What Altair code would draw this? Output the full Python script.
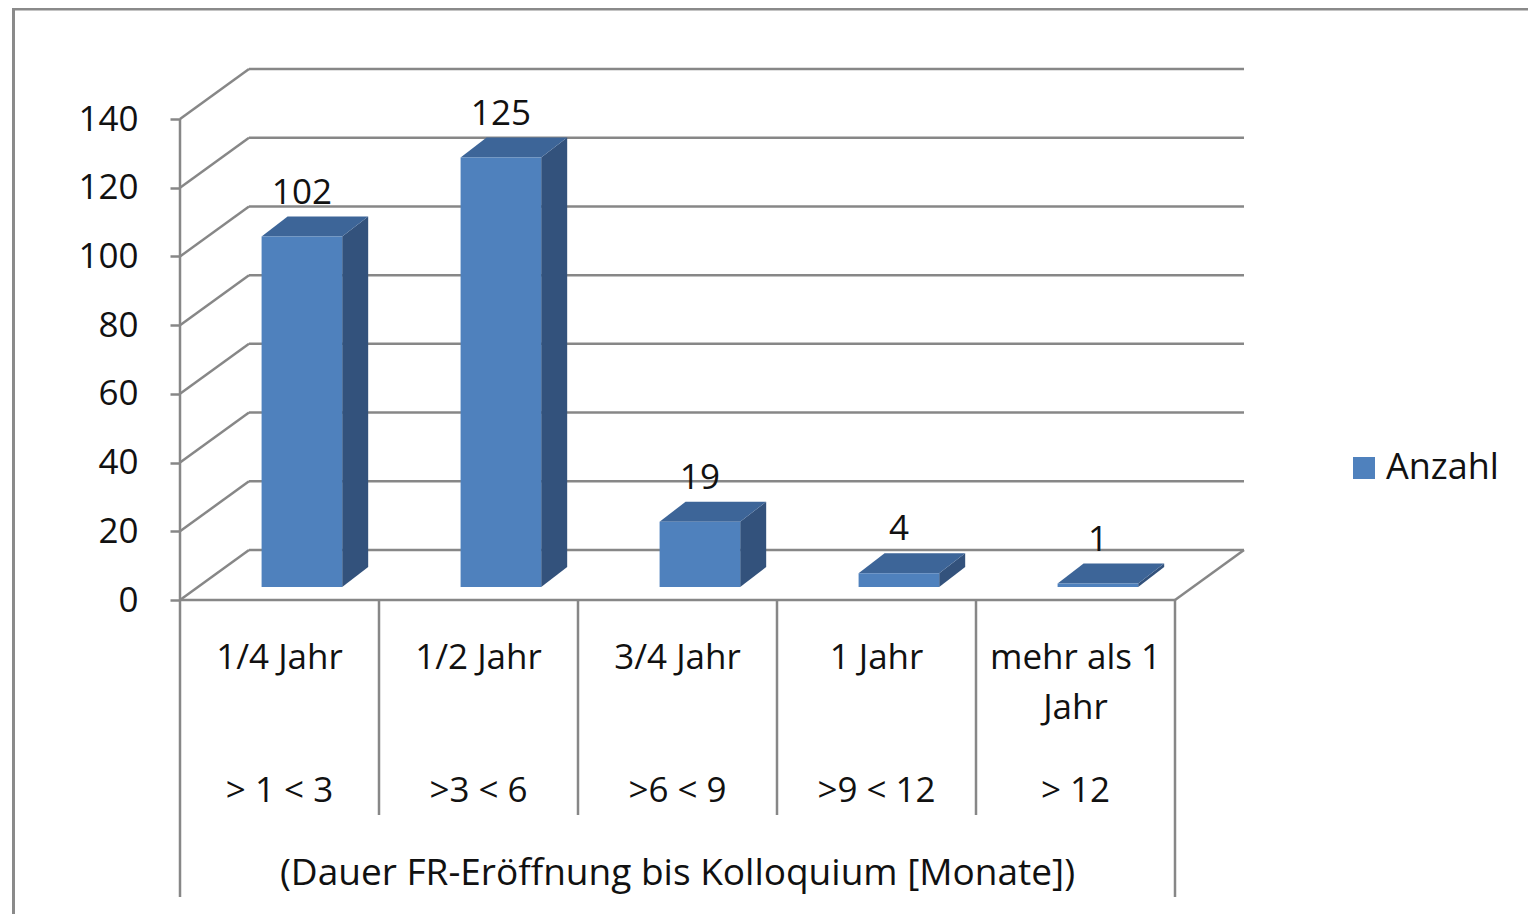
import altair as alt
import pandas as pd

# ---------------- data ----------------
categories = ["1/4 Jahr", "1/2 Jahr", "3/4 Jahr", "1 Jahr", "mehr als 1\nJahr"]
ranges = ["> 1 < 3", ">3 < 6", ">6 < 9", ">9 < 12", "> 12"]
values = [102, 125, 19, 4, 1]
series_name = "Anzahl"
y_ticks = [0, 20, 40, 60, 80, 100, 120, 140]
axis_title = "(Dauer FR-Eröffnung bis Kolloquium [Monate])"

# ---------------- geometry (pixels -> data units) ----------------
N = len(categories)
Y_MAX = 140
PX_X = 199.0            # px per category on the front plane
WALL_DX_PX, WALL_DY_PX = 69, 50
H = 531                 # plot height
W = int(N * PX_X + WALL_DX_PX)
PX_Y = (H - WALL_DY_PX) / Y_MAX
DX = WALL_DX_PX / PX_X
DY = WALL_DY_PX / PX_Y
FL, FW = 0.41, 0.405    # front face left offset / width within a category
YB = 13 / PX_Y          # bar front face sits 13 px behind the front edge
BDX, BDY = 26 / PX_X, 20 / PX_Y   # bar depth

BLUE = "#4F81BD"
SIDE = "#33527C"
TOP = "#3D6598"
GRID = "#878787"
TXT = "#111111"
FONT = "Open Sans"

# ---------------- tables ----------------
front = pd.DataFrame({
    "cat": categories,
    "series": series_name,
    "x1": [i + FL for i in range(N)],
    "x2": [i + FL + FW for i in range(N)],
    "y1": [YB] * N,
    "y2": [YB + v for v in values],
})

side_rows, top_rows = [], []
for i, v in enumerate(values):
    xl, xr = i + FL, i + FL + FW
    side_rows += [
        {"cat": i, "x": xr, "lo": YB, "hi": YB + v},
        {"cat": i, "x": xr + BDX, "lo": YB + BDY, "hi": YB + v + BDY},
    ]
    top_rows += [
        {"cat": i, "y": YB + v, "xa": xl, "xb": xr},
        {"cat": i, "y": YB + v + BDY, "xa": xl + BDX, "xb": xr + BDX},
    ]
side = pd.DataFrame(side_rows)
top = pd.DataFrame(top_rows)

labels = pd.DataFrame({
    "x": [i + FL + FW / 2 for i in range(N)],
    "y": [YB + v + BDY for v in values],
    "txt": [str(v) for v in values],
})

line_rows = []
for t in y_ticks:
    line_rows.append({"x": DX, "x2": N + DX, "y": t + DY, "y2": t + DY})
    line_rows.append({"x": 0, "x2": DX, "y": t, "y2": t + DY})
line_rows.append({"x": 0, "x2": 0, "y": 0, "y2": Y_MAX})
line_rows.append({"x": 0, "x2": N, "y": 0, "y2": 0})
line_rows.append({"x": N, "x2": N + DX, "y": 0, "y2": DY})
lines = pd.DataFrame(line_rows)

cat_tab = pd.DataFrame({
    "xc": [i + 0.5 for i in range(N)],
    "cat": categories,
    "rng": ranges,
})
inner_sep = pd.DataFrame({"x": list(range(1, N))})
outer_sep = pd.DataFrame({"x": [0, N]})
title_df = pd.DataFrame({"x": [N / 2], "t": [axis_title]})
frame_df = pd.DataFrame({"a": [0]})

xs = alt.Scale(domain=[0, N + DX], nice=False, zero=False)
ys = alt.Scale(domain=[0, Y_MAX + DY], nice=False, zero=False)
yaxis = alt.Axis(
    values=y_ticks, domain=False, grid=False, ticks=True, tickSize=10,
    tickColor=GRID, tickWidth=2.5, labelFont=FONT, labelFontSize=35,
    labelColor=TXT, labelPadding=32, title=None)

# ---------------- layers ----------------
grid = alt.Chart(lines).mark_rule(color=GRID, strokeWidth=2.5).encode(
    x=alt.X("x:Q", scale=xs, axis=None),
    x2="x2:Q",
    y=alt.Y("y:Q", scale=ys, axis=yaxis),
    y2="y2:Q",
)

side_l = alt.Chart(side).mark_area(orient="vertical", color=SIDE, opacity=1).encode(
    x=alt.X("x:Q", scale=xs, axis=None),
    y=alt.Y("lo:Q", scale=ys, axis=yaxis, stack=None),
    y2="hi:Q",
    detail="cat:N",
)

top_l = alt.Chart(top).mark_area(orient="horizontal", color=TOP, opacity=1).encode(
    y=alt.Y("y:Q", scale=ys, axis=yaxis),
    x=alt.X("xa:Q", scale=xs, axis=None, stack=None),
    x2="xb:Q",
    detail="cat:N",
)

front_l = alt.Chart(front).mark_rect(opacity=1).encode(
    x=alt.X("x1:Q", scale=xs, axis=None),
    x2="x2:Q",
    y=alt.Y("y1:Q", scale=ys, axis=yaxis),
    y2="y2:Q",
    color=alt.Color("series:N", scale=alt.Scale(range=[BLUE]), legend=alt.Legend(
        title=None, orient="none", legendX=1166, legendY=381, symbolType="square",
        symbolSize=484, symbolStrokeWidth=0, labelFont=FONT, labelFontSize=36,
        labelColor=TXT, labelOffset=4, padding=0)),
)

val_l = alt.Chart(labels).mark_text(
    font=FONT, fontSize=35, color=TXT, baseline="alphabetic", dy=-13
).encode(
    x=alt.X("x:Q", scale=xs, axis=None),
    y=alt.Y("y:Q", scale=ys, axis=yaxis),
    text="txt:N",
)

sep_in = alt.Chart(inner_sep).mark_rule(color=GRID, strokeWidth=2.5).encode(
    x=alt.X("x:Q", scale=xs, axis=None),
    y=alt.value(H), y2=alt.value(H + 215),
)
sep_out = alt.Chart(outer_sep).mark_rule(color=GRID, strokeWidth=2.5).encode(
    x=alt.X("x:Q", scale=xs, axis=None),
    y=alt.value(H), y2=alt.value(H + 297),
)

cat_l = alt.Chart(cat_tab).mark_text(
    font=FONT, fontSize=35, color=TXT, baseline="alphabetic", lineBreak="\n", lineHeight=50
).encode(
    x=alt.X("xc:Q", scale=xs, axis=None),
    y=alt.value(600),
    text="cat:N",
)
rng_l = alt.Chart(cat_tab).mark_text(
    font=FONT, fontSize=35, color=TXT, baseline="alphabetic"
).encode(
    x=alt.X("xc:Q", scale=xs, axis=None),
    y=alt.value(733),
    text="rng:N",
)
title_l = alt.Chart(title_df).mark_text(
    font=FONT, fontSize=37, color=TXT, baseline="alphabetic"
).encode(
    x=alt.X("x:Q", scale=xs, axis=None),
    y=alt.value(816),
    text="t:N",
)

frame_l = alt.Chart(frame_df).mark_rect(
    fill=None, stroke="#8A8A8A", strokeWidth=3
).encode(
    x=alt.value(-166.5), x2=alt.value(1500),
    y=alt.value(-60), y2=alt.value(1000),
)

TOTAL_W, TOTAL_H = 1520, 906
PAD_L, PAD_T = 172, 61

chart = alt.layer(
    grid, frame_l, side_l, top_l, front_l, val_l, sep_in, sep_out, cat_l, rng_l, title_l
).properties(
    width=W, height=H,
    autosize=alt.AutoSizeParams(type="none"),
    padding={"left": PAD_L, "top": PAD_T, "right": TOTAL_W - PAD_L - W,
             "bottom": TOTAL_H - PAD_T - H},
    background="white",
).configure_view(stroke=None)

chart.save("out.html", embed_options={"renderer": "svg", "actions": False})
